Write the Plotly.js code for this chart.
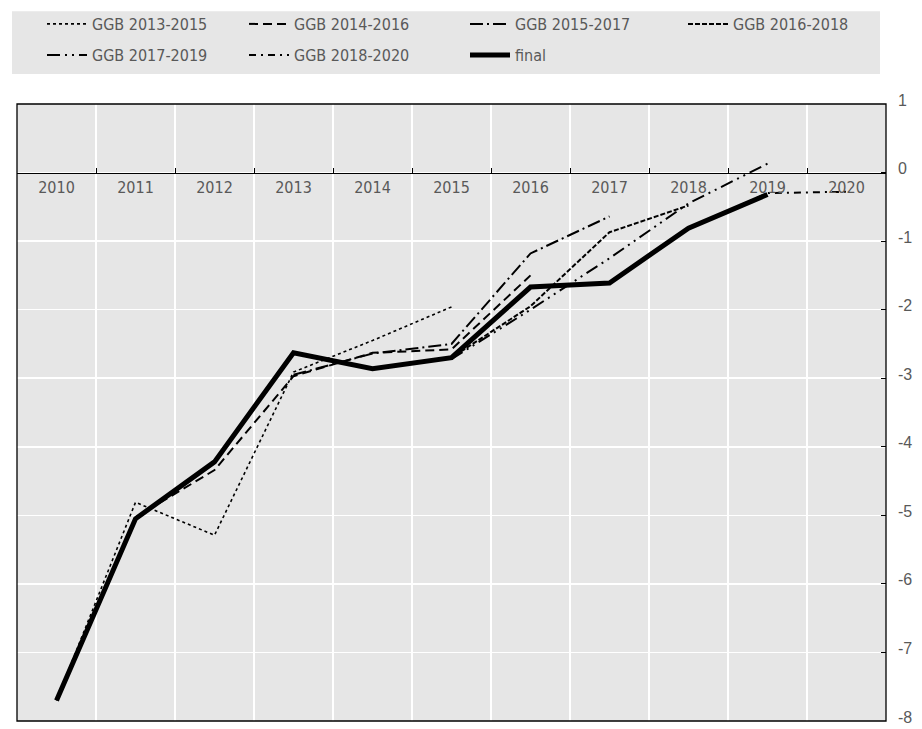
<!DOCTYPE html>
<html><head><meta charset="utf-8">
<script src="https://cdn.plot.ly/plotly-3.0.1.min.js"></script>
<style>html,body{margin:0;padding:0;background:#fff}#chart{width:922px;height:729px}</style>
</head><body><div id="chart"></div>
<script>
const years = ['2010','2011','2012','2013','2014','2015','2016','2017','2018','2019','2020'];
const seriesNames = ['GGB 2013-2015','GGB 2014-2016','GGB 2015-2017','GGB 2016-2018','GGB 2017-2019','GGB 2018-2020','final'];
const ggb2013_2015 = [-7.70, -4.81, -5.29, -2.91, -2.45, -1.96, null, null, null, null, null];
const ggb2014_2016 = [null, -5.03, -4.34, -2.97, -2.63, -2.58, -1.50, null, null, null, null];
const ggb2015_2017 = [null, null, null, -2.95, -2.64, -2.50, -1.18, -0.64, null, null, null];
const ggb2016_2018 = [null, null, null, null, -2.86, -2.70, -1.95, -0.87, -0.48, null, null];
const ggb2017_2019 = [null, null, null, null, null, -2.72, -2.00, -1.25, -0.45, 0.13, null];
const ggb2018_2020 = [null, null, null, null, null, null, null, -1.61, -0.81, -0.30, -0.28];
const finalBalance = [-7.70, -5.05, -4.22, -2.63, -2.86, -2.70, -1.67, -1.61, -0.81, -0.32, null];
const yTicks = [1, 0, -1, -2, -3, -4, -5, -6, -7, -8];

const allSeries = [ggb2013_2015, ggb2014_2016, ggb2015_2017, ggb2016_2018, ggb2017_2019, ggb2018_2020, finalBalance];
const dashes = ['dot', '9px,5px', '13px,4px,2px,4px', '5px,2px', '13px,5px,2px,5px,2px,5px', '7px,5px,2px,5px', 'solid'];
const widths = [1.6, 2, 2, 2, 2, 2, 5];

// legend slots (pixel positions of each entry's line start, row centre)
const W = 922, H = 729, ML = 17, MR = 36, MT = 103, MB = 8;
const PW = W - ML - MR, PH = H - MT - MB;
const legPos = [[48,24],[250,24],[471,24],[689,24],[48,55],[250,55],[471,55]];
const legendFont = {family: '"DejaVu Sans Condensed", "Liberation Sans Narrow", Arial, sans-serif', size: 16, color: '#595959'};

const traces = allSeries.map((vals, i) => ({
  type: 'scatter', mode: 'lines', x: years, y: vals, name: seriesNames[i],
  line: {color: '#000000', width: widths[i], dash: dashes[i]},
  connectgaps: false, hoverinfo: 'skip',
  legend: i === 0 ? 'legend' : 'legend' + (i + 1)
}));

const layout = {
  width: W, height: H,
  margin: {l: ML, r: MR, t: MT, b: MB, pad: 0},
  paper_bgcolor: '#ffffff', plot_bgcolor: '#e6e6e6',
  font: {family: 'Liberation Sans, Arial, sans-serif', color: '#595959'},
  showlegend: true,
  xaxis: {
    type: 'category', range: [-0.5, 10.5], anchor: 'free', position: 8/9, side: 'bottom',
    showline: true, linecolor: '#000000', linewidth: 1.2,
    ticks: 'inside', tickson: 'boundaries', ticklen: 5, tickcolor: '#000000', tickwidth: 1,
    showgrid: true, gridcolor: '#ffffff', gridwidth: 1.5, zeroline: false,
    tickfont: {family: '"DejaVu Sans Condensed", "Liberation Sans Narrow", Arial, sans-serif', size: 16, color: '#595959'}
  },
  yaxis: {
    range: [-8, 1], side: 'right', tickvals: yTicks, ticktext: yTicks.map(String),
    ticks: 'inside', ticklen: 5, tickcolor: '#000000', showline: false,
    showgrid: true, gridcolor: '#ffffff', gridwidth: 1.5, zeroline: false,
    ticklabelstandoff: 11, ticklabeloverflow: 'allow', ticklabelshift: -4,
    tickfont: {family: 'Liberation Sans, Arial, sans-serif', size: 16, color: '#595959'}
  },
  shapes: [
    {type: 'rect', xref: 'paper', yref: 'paper', x0: (12-ML)/PW, x1: (880-ML)/PW, y0: (H-MB-73)/PH, y1: (H-MB-10)/PH,
     fillcolor: '#e6e6e6', line: {width: 0}, layer: 'below'},
    {type: 'rect', xref: 'paper', yref: 'paper', x0: 0, x1: 1, y0: 0, y1: 1,
     line: {color: '#000000', width: 1.3}, layer: 'above'}
  ]
};
legPos.forEach((p, i) => {
  const key = i === 0 ? 'legend' : 'legend' + (i + 1);
  layout[key] = {
    x: (p[0] - 6 - ML) / PW, xanchor: 'left',
    y: (H - MB - p[1]) / PH, yanchor: 'middle',
    bgcolor: 'rgba(0,0,0,0)', borderwidth: 0, font: legendFont,
    orientation: 'h', itemwidth: 40
  };
});

Plotly.newPlot('chart', traces, layout, {displayModeBar: false, staticPlot: true});
</script>
</body></html>
